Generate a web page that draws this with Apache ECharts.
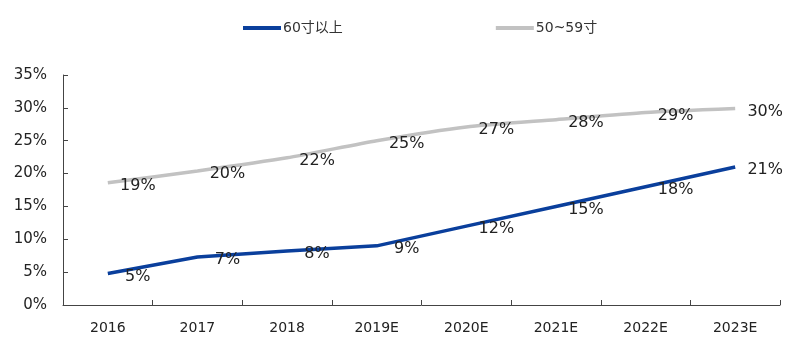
<!DOCTYPE html>
<html><head><meta charset="utf-8">
<script src="https://cdn.jsdelivr.net/npm/echarts@6/dist/echarts.min.js"></script>
<style>html,body{margin:0;padding:0;background:#fff}#c{width:800px;height:356px}</style>
</head><body><div id="c"></div>
<script>
var categories = ['2016','2017','2018','2019E','2020E','2021E','2022E','2023E'];
var s60 = [4.8, 7.3, 8.2, 9.0, 12.0, 15.0, 18.0, 21.0];
var s50 = [18.6, 20.4, 22.4, 25.0, 27.1, 28.2, 29.3, 29.9];
var yTicks = [0,5,10,15,20,25,30,35];
var font = 'Tahoma, "DejaVu Sans", "Noto Sans CJK SC", sans-serif';
var chart = echarts.init(document.getElementById('c'));
var lbl = {show:true, position:'inside', offset:[30,3], color:'#222', fontSize:16, fontFamily:font,
  formatter:function(p){return Math.round(p.value)+'%';}};
chart.setOption({
  animation:false,
  legend:{top:16, left:238, itemGap:153, itemWidth:38, itemHeight:4, icon:'rect',
    textStyle:{fontSize:14, color:'#333', fontFamily:font, padding:[0,0,0,-3]},
    data:['60寸以上','50~59寸']},
  grid:{left:63, right:20, top:75, bottom:51},
  xAxis:{type:'category', data:categories, boundaryGap:true,
    axisLine:{lineStyle:{color:'#444', width:1}},
    axisTick:{show:true, inside:true, length:5, lineStyle:{color:'#444'}},
    axisLabel:{fontSize:14, color:'#222', margin:16, fontFamily:font}},
  yAxis:{type:'value', min:0, max:35, interval:5,
    splitLine:{show:false},
    axisLine:{show:true, lineStyle:{color:'#444', width:1}},
    axisTick:{show:true, inside:true, length:5, lineStyle:{color:'#444'}},
    axisLabel:{fontSize:15, color:'#222', margin:16, fontFamily:font,
      formatter:function(v){return yTicks.indexOf(v)>=0 ? v+'%' : '';}}},
  series:[
    {name:'60寸以上', type:'line', data:s60, showSymbol:true, symbol:'circle', symbolSize:0.1,
      lineStyle:{color:'#0a3f9c', width:3.5}, itemStyle:{color:'#0a3f9c'}, label:lbl},
    {name:'50~59寸', type:'line', data:s50, smooth:0.2, showSymbol:true, symbol:'circle', symbolSize:0.1,
      lineStyle:{color:'#c2c2c2', width:3.5}, itemStyle:{color:'#c2c2c2'}, label:lbl}
  ]
});
</script></body></html>
